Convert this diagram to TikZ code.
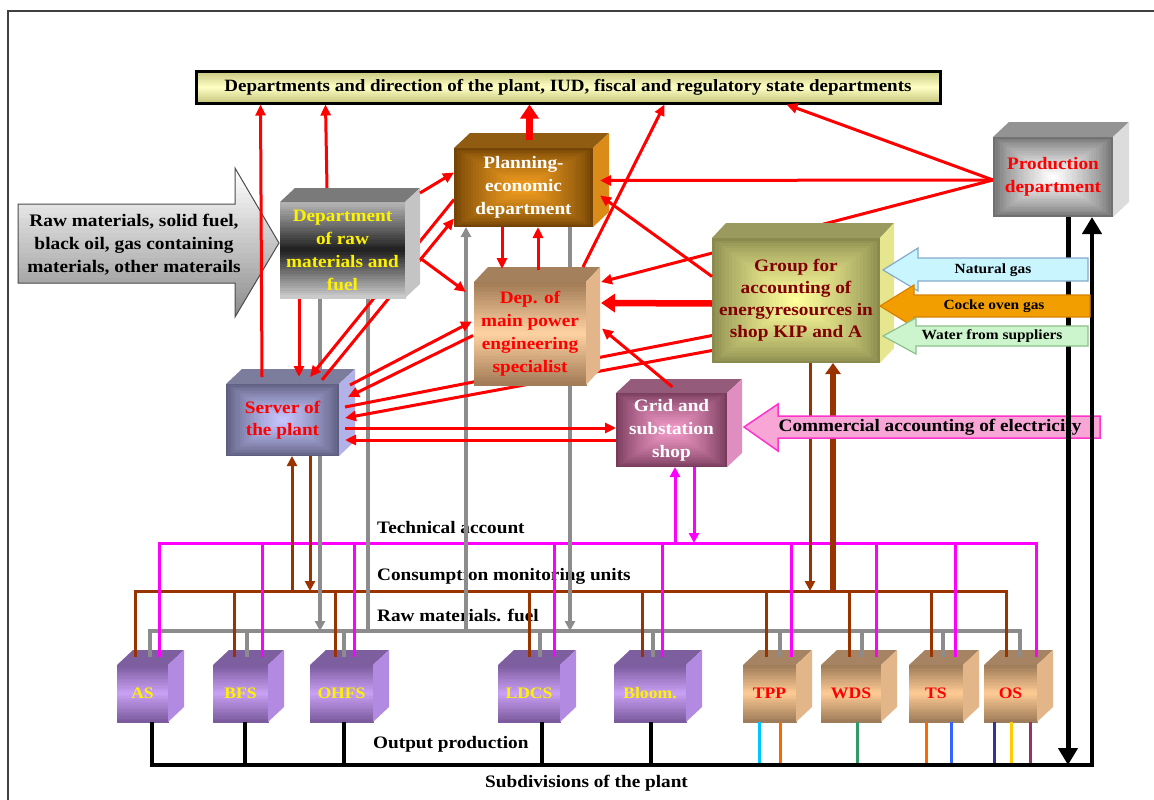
\documentclass[tikz,border=0pt]{standalone}
\usepackage{graphicx}
\usepackage{fontspec}
\setmainfont{Liberation Serif}[FakeStretch=1.1]
\usetikzlibrary{arrows.meta,calc}

\definecolor{lnred}{HTML}{FF0000}
\definecolor{lngray}{HTML}{8C8C8C}
\definecolor{lnbrown}{HTML}{993300}
\definecolor{lnmag}{HTML}{FF00FF}
\definecolor{banA}{HTML}{C8C880}
\definecolor{banB}{HTML}{FFFFC4}
\definecolor{rawA}{HTML}{B8B8B8}
\definecolor{rawB}{HTML}{1E1E1E}
\definecolor{rawC}{HTML}{CFCFCF}
\definecolor{rawT}{HTML}{7A7A7A}
\definecolor{rawS}{HTML}{C4C4C4}
\definecolor{plnIn}{HTML}{F5A020}
\definecolor{plnOut}{HTML}{734405}
\definecolor{plnT}{HTML}{8F5C12}
\definecolor{plnS}{HTML}{DB8C18}
\definecolor{dmpA}{HTML}{A07A55}
\definecolor{dmpB}{HTML}{FFD2A2}
\definecolor{dmpT}{HTML}{A4805C}
\definecolor{dmpS}{HTML}{E2B68A}
\definecolor{grpIn}{HTML}{FFFF9C}
\definecolor{grpOut}{HTML}{8A8A4E}
\definecolor{grpT}{HTML}{9A9A5E}
\definecolor{grpS}{HTML}{E6E68E}
\definecolor{grpTx}{HTML}{800000}
\definecolor{prdIn}{HTML}{FFFFFF}
\definecolor{prdOut}{HTML}{707070}
\definecolor{prdT}{HTML}{939393}
\definecolor{prdS}{HTML}{DCDCDC}
\definecolor{srvIn}{HTML}{C6C6FF}
\definecolor{srvOut}{HTML}{5E5E80}
\definecolor{srvT}{HTML}{7C7C9C}
\definecolor{srvS}{HTML}{B2B2E8}
\definecolor{grdIn}{HTML}{F59CCB}
\definecolor{grdOut}{HTML}{763A5A}
\definecolor{grdT}{HTML}{945C7A}
\definecolor{grdS}{HTML}{E08DBF}
\definecolor{purA}{HTML}{7A5A9C}
\definecolor{purB}{HTML}{C9A0F5}
\definecolor{purT}{HTML}{7D5FA0}
\definecolor{purS}{HTML}{B38AE2}
\definecolor{tanA}{HTML}{9C7A58}
\definecolor{tanB}{HTML}{FFCB94}
\definecolor{tanT}{HTML}{A68463}
\definecolor{tanS}{HTML}{E3B68A}
\definecolor{ngF}{HTML}{C8F5FF}
\definecolor{ngD}{HTML}{86AACC}
\definecolor{coF}{HTML}{F29E00}
\definecolor{coD}{HTML}{D98200}
\definecolor{wtF}{HTML}{CDF5CD}
\definecolor{wtD}{HTML}{8CBF8C}
\definecolor{ceF}{HTML}{F7A6D6}
\definecolor{ceD}{HTML}{FF33CC}
\definecolor{cyanS}{HTML}{00C8FF}
\definecolor{orS}{HTML}{FF6600}
\definecolor{grS}{HTML}{339966}
\definecolor{blS}{HTML}{3366FF}
\definecolor{nvS}{HTML}{333399}
\definecolor{gdS}{HTML}{FFCC00}
\definecolor{mrS}{HTML}{993366}

\newcommand{\fz}[2]{\fontsize{#1}{#2}\selectfont}
% vertical three-stop gradient drawn with strips: node, top, middle, bottom
\newcommand{\vgrad}[4]{%
  \foreach \i in {0,...,39}{%
    \pgfmathsetmacro\gA{\i/40}%
    \pgfmathsetmacro\gB{(\i+1)/40}%
    \pgfmathsetmacro\gT{(\i+0.5)/40}%
    \ifdim\gT pt<0.5pt
      \pgfmathtruncatemacro\gP{200*\gT}%
      \colorlet{gtmp}{#3!\gP!#2}%
    \else
      \pgfmathtruncatemacro\gP{200*(\gT-0.5)}%
      \colorlet{gtmp}{#4!\gP!#3}%
    \fi
    \fill[gtmp, draw=gtmp, line width=0.4pt] ($(#1.north west)!\gA!(#1.south west)$) rectangle ($(#1.north east)!\gB!(#1.south east)$);
  }%
}
% rectangular gradient from the centre: node, outer, inner
\newcommand{\rgrad}[3]{%
  \foreach \k in {0,...,24}{%
    \pgfmathsetmacro\gH{\k/50}%
    \pgfmathtruncatemacro\gP{100*(\k/24)^0.75}%
    \colorlet{gtmp}{#3!\gP!#2}%
    \fill[gtmp] ($(#1.north west)!\gH!(#1.south east)$) rectangle ($(#1.south east)!\gH!(#1.north west)$);
  }%
}
\newcommand{\frraw}[1]{\vgrad{#1}{rawA}{rawB}{rawC}}
\newcommand{\frpln}[1]{\rgrad{#1}{plnOut}{plnIn}}
\newcommand{\frdmp}[1]{\vgrad{#1}{dmpA}{dmpB}{dmpA}}
\newcommand{\frgrp}[1]{\rgrad{#1}{grpOut}{grpIn}}
\newcommand{\frprd}[1]{\rgrad{#1}{prdOut}{prdIn}}
\newcommand{\frsrv}[1]{\rgrad{#1}{srvOut}{srvIn}}
\newcommand{\frgrd}[1]{\rgrad{#1}{grdOut}{grdIn}}
\newcommand{\frpur}[1]{\vgrad{#1}{purA}{purB}{purA}}
\newcommand{\frtan}[1]{\vgrad{#1}{tanA}{tanB}{tanA}}

\newcommand{\placebox}[5]{%
  \path node[minimum width=#4pt, minimum height=#5pt, outer sep=0pt, inner sep=0pt] (#1) at (#2,#3) {};}
\newcommand{\drawcube}[5]{%
  \csname fr#4\endcsname{#1}%
  \fill[#4top] (#1.north west) -- ++(#2,-#3) -- ($(#1.north east)+(#2,-#3)$) -- (#1.north east) -- cycle;
  \fill[#4side] (#1.north east) -- ++(#2,-#3) -- ($(#1.south east)+(#2,-#3)$) -- (#1.south east) -- cycle;
  \node[#4text] (#1-t) at (#1.center) {#5};
}

\tikzset{
  ctext/.style={align=center, inner sep=0pt, font=\bfseries\fz{17.5}{23}},
  btext/.style={align=center, inner sep=0pt, font=\bfseries\fz{16}{20}},
  rawtop/.style={fill=rawT}, rawside/.style={fill=rawS}, rawtext/.style={ctext, text=yellow},
  plntop/.style={fill=plnT}, plnside/.style={fill=plnS}, plntext/.style={ctext, text=white},
  dmptop/.style={fill=dmpT}, dmpside/.style={fill=dmpS}, dmptext/.style={ctext, text=lnred},
  grptop/.style={fill=grpT}, grpside/.style={fill=grpS}, grptext/.style={ctext, text=grpTx, font=\bfseries\fz{17.5}{22}},
  prdtop/.style={fill=prdT}, prdside/.style={fill=prdS}, prdtext/.style={ctext, text=lnred},
  srvtop/.style={fill=srvT}, srvside/.style={fill=srvS}, srvtext/.style={ctext, text=lnred, font=\bfseries\fz{17.5}{22}},
  grdtop/.style={fill=grdT}, grdside/.style={fill=grdS}, grdtext/.style={ctext, text=white},
  purtop/.style={fill=purT}, purside/.style={fill=purS}, purtext/.style={btext, text=yellow},
  tantop/.style={fill=tanT}, tanside/.style={fill=tanS}, tantext/.style={btext, text=lnred},
  rarr/.style={draw=lnred, line width=3pt, -{Triangle[length=11pt,width=10pt]}},
  rln/.style={draw=lnred, line width=3pt},
  rthick/.style={draw=lnred, line width=6.5pt, -{Triangle[length=14pt,width=18pt]}},
  garr/.style={draw=lngray, line width=3.5pt, -{Triangle[length=10pt,width=10pt]}},
  gln/.style={draw=lngray, line width=3.5pt},
  barr/.style={draw=lnbrown, line width=3pt, -{Triangle[length=10pt,width=10pt]}},
  bln/.style={draw=lnbrown, line width=3pt},
  bthick/.style={draw=lnbrown, line width=6pt, -{Triangle[length=11pt,width=15pt]}},
  marr/.style={draw=lnmag, line width=3pt, -{Triangle[length=10pt,width=10pt]}},
  mln/.style={draw=lnmag, line width=3pt},
  karr/.style={draw=black, line width=5pt, -{Triangle[length=17pt,width=19pt]}},
  kln/.style={draw=black, line width=4pt},
  lbl/.style={font=\bfseries\fz{17.5}{22}, inner sep=0pt},
  arrtext/.style={font=\bfseries\fz{14}{16}, inner sep=0pt},
}

\begin{document}
\begin{tikzpicture}[x=1pt,y=-1pt]
\useasboundingbox (0,0) rectangle (1154,800);
\fill[white] (0,0) rectangle (1154,800);
\clip (0,0) rectangle (1154,800);
\draw[line width=2pt, black!75] (8,820) -- (8,11) -- (1170,11);

% layout of the boxes
\placebox{bannerbox}{568}{87.5}{744}{31}
\placebox{raw}{342.5}{250}{125}{96}
\placebox{plan}{523.5}{187.5}{139}{79}
\placebox{dmp}{530}{333.5}{112}{103}
\placebox{grp}{796}{300.5}{168}{125}
\placebox{prod}{1053}{177}{120}{80}
\placebox{srv}{282.5}{420}{113}{72}
\placebox{grid}{671.5}{430}{111}{74}
\placebox{as}{142.5}{693.5}{51}{57}
\placebox{bfs}{240.5}{693.5}{55}{57}
\placebox{ohfs}{341.5}{693.5}{63}{57}
\placebox{ldcs}{529}{693.5}{62}{57}
\placebox{bloom}{650}{693.5}{72}{57}
\placebox{tpp}{769.5}{693.5}{53}{57}
\placebox{wds}{851}{693.5}{60}{57}
\placebox{ts}{936}{693.5}{54}{57}
\placebox{os}{1010.5}{693.5}{53}{57}

% banner
\vgrad{bannerbox}{banA}{banB}{banA}
\node[draw=black, line width=3pt, minimum width=744pt, minimum height=31pt, inner sep=0pt] (banner) at (bannerbox.center) {\resizebox{687pt}{!}{\bfseries Departments and direction of the plant, IUD, fiscal and regulatory state departments}};

% big input arrow
\begin{scope}
\clip (18,204) -- (235,204) -- (235,168) -- (279,243) -- (235,317) -- (235,283) -- (18,283) -- cycle;
\foreach \i in {0,...,29}{
  \pgfmathsetmacro\gY{168+\i*5}
  \pgfmathsetmacro\gZ{174+\i*5}
  \pgfmathtruncatemacro\gP{90*\i/29}
  \colorlet{gtmp}{gray!\gP!white}
  \fill[gtmp] (10,\gY) rectangle (290,\gZ);
}
\end{scope}
\draw[gray!60!black, line width=1pt] (18,204) -- (235,204) -- (235,168) -- (279,243) -- (235,317) -- (235,283) -- (18,283) -- cycle;
\node[align=center, inner sep=0pt, font=\bfseries\fz{17.6}{23}] (rawin) at (134,245) {Raw materials, solid fuel,\\black oil, gas containing\\materials, other materails};

% labels
\node[lbl, anchor=west] (lta) at (377,528) {Technical account};
\node[lbl, anchor=west] (lcm) at (377,576) {Consumption monitoring units};
\node[lbl, anchor=west] (lrm) at (377,615) {Raw materials. fuel};
\node[lbl, anchor=west] (lop) at (373,744) {Output production};
\node[lbl, anchor=west] (lsd) at (485,783) {Subdivisions of the plant};

% buses
\draw[mln] ($(as.north west)+(42,-8)$) |- ($(os.north west)+(52,-122)$) -- ++(0,114);
\draw[bln] ($(as.north west)+(18,-8)$) |- ($(os.north west)+(22,-74)$) -- ++(0,66);
\draw[gln] ($(as.north west)+(33,-8)$) |- ($(os.north west)+(36,-34)$) -- ++(0,26);

% gray verticals
\draw[garr] ($(raw.south west)+(40,0)$) -- ++(0,333);
\draw[gln] ($(raw.south west)+(88,0)$) -- ++(0,333);
\draw[garr] ($(plan.south west)+(12,404)$) -- ($(plan.south west)+(12,0)$);
\draw[garr] ($(plan.south west)+(116,0)$) -- ++(0,404);

% brown and magenta verticals
\draw[barr] ($(srv.south west)+(66,135)$) -- ($(srv.south west)+(66,0)$);
\draw[barr] ($(srv.south west)+(84,0)$) -- ++(0,135);
\draw[barr] ($(grp.south west)+(98,0)$) -- ++(0,228);
\draw[bthick] ($(grp.south west)+(121,228)$) -- ($(grp.south west)+(121,0)$);
\draw[marr] ($(grid.south west)+(59,76)$) -- ($(grid.south west)+(59,0)$);
\draw[marr] ($(grid.south west)+(78,0)$) -- ++(0,76);

% server
\drawcube{srv}{16}{15}{srv}{Server of\\the plant}
\draw[rln] ($(grp.west)+(0,35)$) -- ($(srv.east)+(6,-13)$);
\draw[rarr] ($(grp.west)+(0,50)$) -- ($(srv.east)+(6,-2)$);
\draw[rarr] ($(srv.north east)+(11,1)$) -- ($(dmp.west)+(-2,-12)$);
\draw[rarr] ($(dmp.west)+(-1,2)$) -- ($(srv.north east)+(9,13)$);
\draw[rarr] ($(srv.east)+(6,8)$) -- ($(grid.west)+(0,-2)$);
\draw[rarr] ($(grid.west)+(0,10)$) -- ($(srv.east)+(6,20)$);
\draw[rarr] ($(plan.west)+(0,12)$) -- ($(srv.north west)+(84,-7)$);
\draw[rarr] ($(srv.north west)+(96,-4)$) -- ($(plan.west)+(0,31)$);
\draw[rarr] ($(raw.south west)+(19,0)$) -- ($(srv.north west)+(73,-7)$);
\draw[rarr] ($(srv.north west)+(36,-7)$) -- ($(banner.south west)+(66,0)$);

% raw materials department
\drawcube{raw}{15}{14}{raw}{Department\\of raw\\materials and\\fuel}
\draw[rarr] ($(raw.north west)+(47,-14)$) -- ($(banner.south west)+(131,0)$);
\draw[rarr] ($(raw.east)+(15,-57)$) -- ($(plan.west)+(0,-15)$);
\draw[rarr] ($(raw.east)+(15,8)$) -- ($(dmp.north west)+(-8,10)$);

% main power engineering and planning
\drawcube{dmp}{14}{15}{dmp}{Dep. of\\main power\\engineering\\specialist}
\drawcube{plan}{16}{15}{pln}{Planning-\\economic\\department}
\draw[rarr] ($(plan.south west)+(48,0)$) -- ($(dmp.north west)+(28,-13)$);
\draw[rarr] ($(dmp.north west)+(64,-12)$) -- ($(plan.south west)+(84,0)$);
\draw[rthick] ($(plan.north)+(6,-8)$) -- ($(banner.south)+(-38.5,0)$);
\draw[rarr] ($(dmp.north east)+(-3,-15)$) -- ($(banner.south west)+(470,0)$);

% grid
\drawcube{grid}{15}{14}{grd}{Grid and\\substation\\shop}
\draw[rarr] ($(grid.north)+(1,-6)$) -- ($(dmp.east)+(16,-5)$);

% production line behind the group box
\draw[rarr] ($(prod.west)+(0,3)$) -- ($(dmp.north east)+(15,0)$);
\drawcube{grp}{14}{15}{grp}{Group for\\accounting of\\energyresources in\\shop KIP and A}
\drawcube{prod}{16}{15}{prd}{Production\\department}
\draw[rarr] ($(prod.west)+(0,3)$) -- ($(banner.south east)+(-155,0)$);
\draw[rarr] ($(prod.west)+(0,3)$) -- ($(plan.east)+(7,-7)$);
\draw[rthick] ($(grp.west)+(0,3)$) -- ($(dmp.east)+(15,-30.5)$);
\draw[rarr] ($(grp.west)+(0,-24)$) -- ($(plan.east)+(7,8)$);

% subdivisions
\drawcube{as}{16}{15}{pur}{AS}
\drawcube{bfs}{16}{15}{pur}{BFS}
\drawcube{ohfs}{16}{15}{pur}{OHFS}
\drawcube{ldcs}{16}{15}{pur}{LDCS}
\drawcube{bloom}{16}{15}{pur}{Bloom.}
\drawcube{tpp}{16}{15}{tan}{TPP}
\drawcube{wds}{16}{15}{tan}{WDS}
\drawcube{ts}{16}{15}{tan}{TS}
\drawcube{os}{16}{15}{tan}{OS}
\foreach \b/\br/\gr/\mg in {as/18/33/42, bfs/21/34/49, ohfs/25/34/44, ldcs/31/42/56, bloom/28/39/48, tpp/23/37/48, wds/28/41/55, ts/22/34/46, os/22/36/52}{
  \draw[bln] ($(\b.north west)+(\br,-8)$) -- ++(0,-66);
  \draw[gln] ($(\b.north west)+(\gr,-8)$) -- ++(0,-26);
  \draw[mln] ($(\b.north west)+(\mg,-8)$) -- ++(0,-114);
}

% output production
\foreach \b/\o in {bfs/32, ohfs/34, ldcs/44, bloom/37}{
  \draw[kln] ($(\b.south west)+(\o,0)$) -- ++(0,45);
}
\foreach \b/\o/\c in {tpp/16/cyanS, tpp/37/orS, wds/36/grS, ts/17/orS, ts/42/blS, os/10/nvS, os/27/gdS, os/46/mrS}{
  \draw[draw=\c, line width=3pt] ($(\b.south west)+(\o,0)$) -- ++(0,43);
}

% commercial accounting of electricity
\path[draw=ceD, line width=1.5pt, fill=ceF] (1100,416) -- (778,416) -- (778,404) -- (744,427) -- (778,451) -- (778,438) -- (1100,438) -- cycle;
\node[lbl] (cae) at (930,427) {Commercial accounting of electricity};

% black lines
\draw[kln, line width=4.5pt, -{Triangle[length=17pt,width=19pt]}] ($(as.south west)+(35,0)$) |- ($(prod.south west)+(99,548)$) -- ($(prod.south west)+(99,0)$);
\draw[karr] ($(prod.south west)+(75,0)$) -- ++(0,548);

% inputs to the group
\path[draw=ngD, line width=1.2pt, fill=ngF] (1088,258) -- (918,258) -- (918,248) -- (883,270) -- (918,291) -- (918,281) -- (1088,281) -- cycle;
\node[arrtext] (ngt) at (993,270) {Natural gas};
\path[draw=coD, line width=1.2pt, fill=coF] (1090,295) -- (914,295) -- (914,285) -- (880,306) -- (914,327) -- (914,317) -- (1090,317) -- cycle;
\node[arrtext] (cot) at (994,306) {Cocke oven gas};
\path[draw=wtD, line width=1.2pt, fill=wtF] (1088,326) -- (916,326) -- (916,318) -- (883,336) -- (916,354) -- (916,346) -- (1088,346) -- cycle;
\node[arrtext] (wtt) at (992,336) {Water from suppliers};
\end{tikzpicture}
\end{document}
